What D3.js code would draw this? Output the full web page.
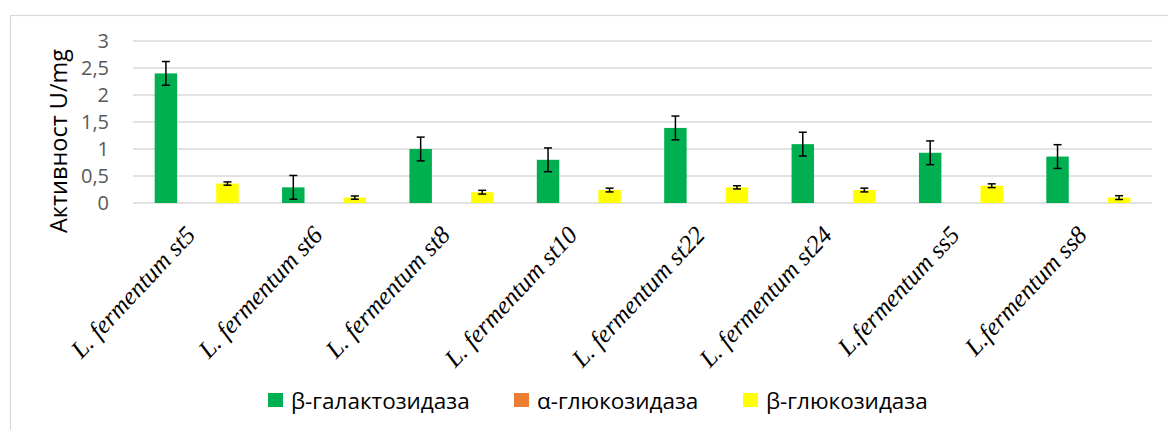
<!DOCTYPE html>
<html><head><meta charset="utf-8">
<script src="https://cdn.jsdelivr.net/npm/d3@7"></script>
<style>body{margin:0;background:#fff}svg{display:block}</style>
</head><body>
<svg id="c" width="1168" height="430"></svg>
<script>
const categories = ["L. fermentum st5","L. fermentum st6","L. fermentum st8","L. fermentum st10","L. fermentum st22","L. fermentum st24","L.fermentum ss5","L.fermentum ss8"];
const seriesNames = ["β-галактозидаза","α-глюкозидаза","β-глюкозидаза"];
const seriesColors = ["#00B050","#ED7D31","#FFFF00"];
const betaGal = [2.40,0.29,1.00,0.80,1.39,1.09,0.93,0.86];
const betaGalErr = [0.22,0.22,0.22,0.22,0.22,0.22,0.22,0.22];
const alphaGlu = [0,0,0,0,0,0,0,0];
const alphaGluErr = [0,0,0,0,0,0,0,0];
const betaGlu = [0.36,0.10,0.20,0.24,0.29,0.24,0.32,0.10];
const betaGluErr = [0.03,0.03,0.035,0.035,0.03,0.035,0.035,0.035];
const yTicks = [0,0.5,1,1.5,2,2.5,3];
const yTitle = "Активност U/mg";

const values = [betaGal, alphaGlu, betaGlu];
const errs = [betaGalErr, alphaGluErr, betaGluErr];
const sans = "'Open Sans', 'Liberation Sans', sans-serif";

const svg = d3.select("#c");
// outer chart border
svg.append("rect").attr("x",10.5).attr("y",15.5).attr("width",1170).attr("height",430)
  .attr("fill","none").attr("stroke","#d9d9d9").attr("stroke-width",1.2);

const x = d3.scaleBand().domain(categories).range([133,1152]).padding(0);
const y = d3.scaleLinear().domain([0,3]).range([203,41]);
const sub = d3.scaleBand().domain(d3.range(3)).range([-42,42]).paddingInner(0.27);

// gridlines
svg.append("g").selectAll("line").data(yTicks).join("line")
  .attr("x1",133).attr("x2",1152)
  .attr("y1",d=>y(d)).attr("y2",d=>y(d))
  .attr("stroke","#d9d9d9").attr("stroke-width",1.5);

// y axis labels
const fmt = d => String(d).replace(".",",");
svg.append("g").selectAll("text").data(yTicks).join("text")
  .attr("x",109).attr("y",d=>y(d)).attr("dy","0.36em")
  .attr("text-anchor","end").attr("fill","#595959")
  .attr("font-family",sans).attr("font-size",20)
  .text(fmt);

// y title
svg.append("text").attr("transform","translate(67,141) rotate(-90)")
  .attr("text-anchor","middle").attr("fill","#000")
  .attr("font-family",sans).attr("font-size",23.5)
  .text(yTitle);

// bars
const bw = sub.bandwidth();
values.forEach((vals,si)=>{
  const g = svg.append("g");
  g.selectAll("rect").data(vals).join("rect")
    .attr("x",(d,i)=>x(categories[i])+x.bandwidth()/2+sub(si))
    .attr("y",d=>y(d)).attr("width",bw).attr("height",d=>y(0)-y(d))
    .attr("fill",seriesColors[si]);
  if (si===1) return;
  const eg = svg.append("g").attr("stroke","#000").attr("stroke-width",1.5);
  vals.forEach((v,i)=>{
    const cx = x(categories[i])+x.bandwidth()/2+sub(si)+bw/2;
    const e = errs[si][i];
    eg.append("line").attr("x1",cx).attr("x2",cx).attr("y1",y(v+e)).attr("y2",y(v-e));
    [v+e,v-e].forEach(t=>eg.append("line").attr("x1",cx-4).attr("x2",cx+4).attr("y1",y(t)).attr("y2",y(t)));
  });
});

// x labels
svg.append("g").selectAll("text").data(categories).join("text")
  .attr("transform",d=>`translate(${x(d)+x.bandwidth()/2},${236}) rotate(-47)`)
  .attr("text-anchor","end")
  .attr("font-family","'Liberation Serif', serif").attr("font-style","italic").attr("font-size",25)
  .attr("fill","#000")
  .text(d=>d);

// legend
const legX = [268,514,743];
const lg = svg.append("g");
seriesNames.forEach((n,i)=>{
  lg.append("rect").attr("x",legX[i]).attr("y",393).attr("width",15).attr("height",14).attr("fill",seriesColors[i]);
  lg.append("text").attr("x",legX[i]+23).attr("y",401).attr("dy","0.36em")
    .attr("font-family",sans).attr("font-size",22.5).attr("fill","#000")
    .text(n);
});
</script>
</body></html>
